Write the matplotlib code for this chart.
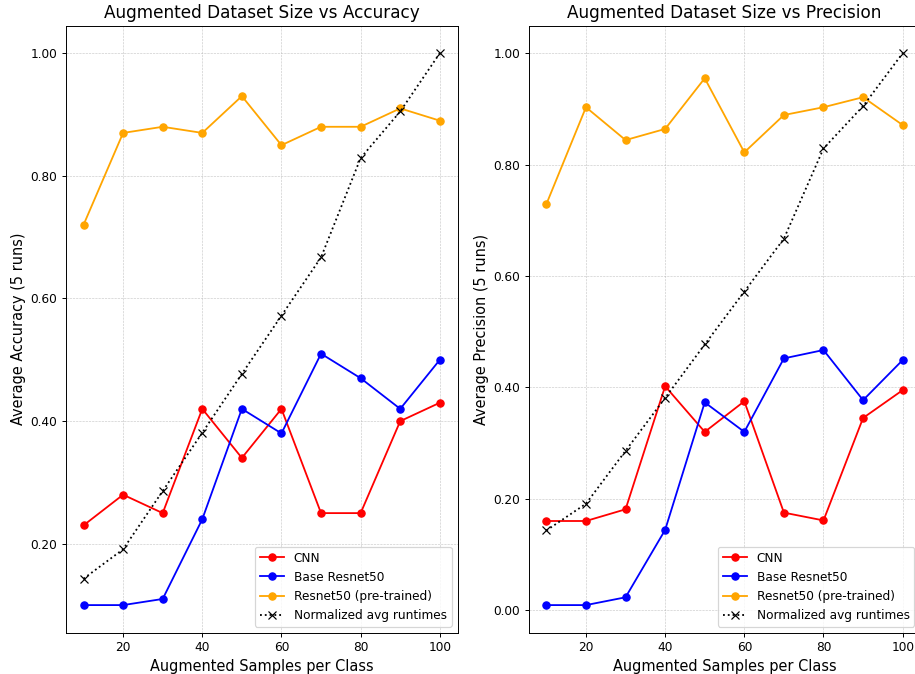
import matplotlib
matplotlib.use("Agg")
import matplotlib.pyplot as plt
from matplotlib.ticker import FormatStrFormatter

samples = [10, 20, 30, 40, 50, 60, 70, 80, 90, 100]

# accuracy (left)
acc_cnn = [0.23, 0.28, 0.25, 0.42, 0.34, 0.42, 0.25, 0.25, 0.40, 0.43]
acc_base = [0.10, 0.10, 0.11, 0.24, 0.42, 0.38, 0.51, 0.47, 0.42, 0.50]
acc_pre = [0.72, 0.87, 0.88, 0.87, 0.93, 0.85, 0.88, 0.88, 0.91, 0.89]

# precision (right)
prec_cnn = [0.160, 0.160, 0.181, 0.402, 0.320, 0.375, 0.175, 0.161, 0.345, 0.395]
prec_base = [0.009, 0.009, 0.023, 0.144, 0.373, 0.320, 0.452, 0.467, 0.377, 0.449]
prec_pre = [0.729, 0.903, 0.844, 0.864, 0.955, 0.822, 0.889, 0.903, 0.921, 0.871]

# normalized runtimes (same on both)
runtimes = [0.143, 0.191, 0.286, 0.381, 0.477, 0.572, 0.667, 0.829, 0.905, 1.0]

fig, axes = plt.subplots(1, 2, figsize=(915 / 87, 674 / 87), dpi=87)

panels = [
    (axes[0], acc_cnn, acc_base, acc_pre, "Accuracy"),
    (axes[1], prec_cnn, prec_base, prec_pre, "Precision"),
]

for ax, cnn, base, pre, metric in panels:
    ax.plot(samples, cnn, marker='o', color='red', label='CNN')
    ax.plot(samples, base, marker='o', color='blue', label='Base Resnet50')
    ax.plot(samples, pre, marker='o', color='orange', label='Resnet50 (pre-trained)')
    ax.plot(samples, runtimes, marker='x', linestyle=':', color='black', label='Normalized avg runtimes')
    ax.set_title(f'Augmented Dataset Size vs {metric}', fontsize=14)
    ax.set_xlabel('Augmented Samples per Class', fontsize=12)
    ax.set_ylabel(f'Average {metric} (5 runs)', fontsize=12)
    ax.yaxis.set_major_formatter(FormatStrFormatter('%.2f'))
    ax.grid(True, linestyle='--', linewidth=0.5, alpha=0.7)
    ax.legend(loc='lower right')

# the original image is cropped a little on the right
plt.subplots_adjust(left=0.0718, right=1.006, bottom=0.0613, top=0.962, wspace=0.181)
plt.savefig('out.png')
